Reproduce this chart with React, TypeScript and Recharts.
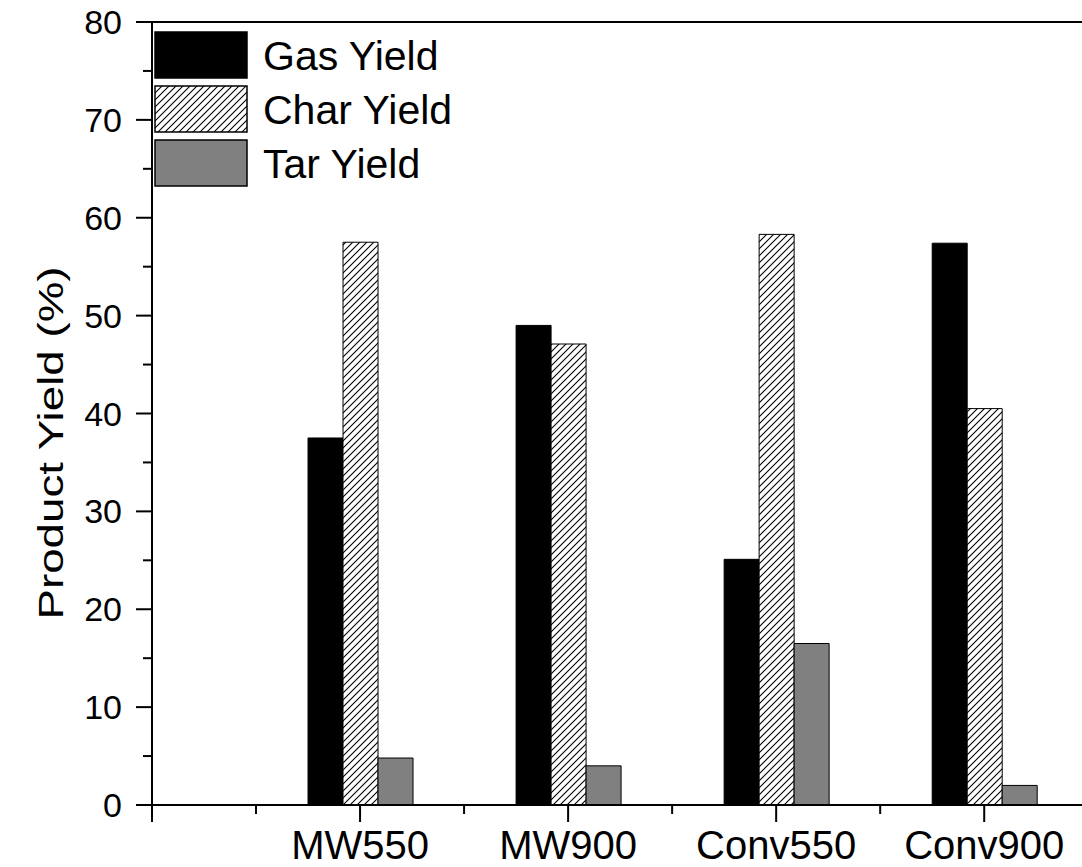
import React from 'react';
import { BarChart, Bar, XAxis, YAxis, ReferenceLine, Legend, Label } from 'recharts';

const categories = ['MW550', 'MW900', 'Conv550', 'Conv900'];
const categoryPositions = [1, 2, 3, 4];
const gasYield = [37.5, 49.0, 25.1, 57.4];
const charYield = [57.5, 47.1, 58.3, 40.5];
const tarYield = [4.8, 4.0, 16.5, 2.0];
const xTicks = [0, 0.5, 1, 1.5, 2, 2.5, 3, 3.5, 4];
const yTicks = [0, 5, 10, 15, 20, 25, 30, 35, 40, 45, 50, 55, 60, 65, 70, 75, 80];
const seriesNames = { gas: 'Gas Yield', char: 'Char Yield', tar: 'Tar Yield' };

const data = categories.map((c, i) => ({
  x: categoryPositions[i],
  name: c,
  gas: gasYield[i],
  char: charYield[i],
  tar: tarYield[i],
}));

const FONT = '"Liberation Sans", Arial, Helvetica, sans-serif';

const XTick = (props: any) => {
  const { x, y, payload } = props;
  const v = payload.value;
  const major = Math.abs(v - Math.round(v)) < 1e-6;
  const idx = categoryPositions.indexOf(Math.round(v));
  const label = major && idx >= 0 ? categories[idx] : '';
  return (
    <g>
      <line x1={x} x2={x} y1={y} y2={y + (major ? 17 : 9)} stroke="#000" strokeWidth={2} />
      {label && (
        <text x={x} y={y + 54} textAnchor="middle" fontSize={40} fontFamily={FONT} fill="#000">
          {label}
        </text>
      )}
    </g>
  );
};

const YTick = (props: any) => {
  const { x, y, payload } = props;
  const v = payload.value;
  const major = v % 10 === 0;
  return (
    <g>
      <line x1={x - (major ? 16 : 9)} x2={x} y1={y} y2={y} stroke="#000" strokeWidth={2} />
      {major && (
        <text x={x - 30} y={y + 12} textAnchor="end" fontSize={34} fontFamily={FONT} fill="#000">
          {v}
        </text>
      )}
    </g>
  );
};

const YLabel = () => (
  <text
    transform="translate(63,443) rotate(-90) scale(1.27,1)"
    textAnchor="middle"
    fontSize={36}
    fontFamily={FONT}
    fill="#000"
  >
    Product Yield (%)
  </text>
);

const fills: Record<string, string> = { gas: '#000000', char: 'url(#hatchLegend)', tar: '#808080' };
const order = ['gas', 'char', 'tar'];

const renderLegend = (props: any) => {
  const payload = [...(props.payload || [])].sort(
    (a: any, b: any) => order.indexOf(a.dataKey) - order.indexOf(b.dataKey)
  );
  return (
    <svg width={330} height={165} style={{ display: 'block' }}>
      <defs>
        <pattern id="hatchLegend" patternUnits="userSpaceOnUse" width={7} height={7}>
          <rect width={7} height={7} fill="#fff" />
          <path d="M0,7 L7,0 M-1,1 L1,-1 M6,8 L8,6" stroke="#000" strokeWidth={1.1} />
        </pattern>
      </defs>
      {payload.map((p: any, i: number) => (
        <g key={p.dataKey}>
          <rect
            x={1}
            y={1 + i * 54}
            width={92}
            height={46}
            fill={fills[p.dataKey]}
            stroke="#000"
            strokeWidth={1.5}
          />
          <text x={109} y={39 + i * 54} fontSize={41} fontFamily={FONT} fill="#000">
            {p.value}
          </text>
        </g>
      ))}
    </svg>
  );
};

export default function App() {
  return (
    <div style={{ position: 'absolute', left: 0, top: 0, width: 1082, height: 867, background: '#fff' }}>
      <BarChart
        width={1082}
        height={867}
        data={data}
        margin={{ top: 22, right: 0, bottom: 0, left: 0 }}
        barGap={0}
      >
        <defs>
          <pattern id="hatch" patternUnits="userSpaceOnUse" width={7} height={7}>
            <rect width={7} height={7} fill="#fff" />
            <path d="M0,7 L7,0 M-1,1 L1,-1 M6,8 L8,6" stroke="#000" strokeWidth={1.1} />
          </pattern>
        </defs>
        <XAxis
          dataKey="x"
          type="number"
          domain={[0, 4.47]}
          ticks={xTicks}
          interval={0}
          allowDataOverflow
          height={62}
          tickSize={0}
          tickMargin={0}
          tickLine={false}
          axisLine={{ stroke: '#000', strokeWidth: 2 }}
          tick={<XTick />}
        />
        <YAxis
          type="number"
          domain={[0, 80]}
          ticks={yTicks}
          interval={0}
          width={152}
          tickSize={0}
          tickMargin={0}
          tickLine={false}
          axisLine={{ stroke: '#000', strokeWidth: 2 }}
          tick={<YTick />}
        >
          <Label content={<YLabel />} />
        </YAxis>
        <ReferenceLine y={80} stroke="#000" strokeWidth={2} />
        <Legend
          layout="vertical"
          align="center"
          verticalAlign="middle"
          content={renderLegend}
          wrapperStyle={{ position: 'absolute', left: 154, top: 31, width: 330, height: 165 }}
        />
        <Bar dataKey="gas" name={seriesNames.gas} fill="#000000" stroke="#000" strokeWidth={1} barSize={35} isAnimationActive={false} />
        <Bar dataKey="char" name={seriesNames.char} fill="url(#hatch)" stroke="#000" strokeWidth={1} barSize={35} isAnimationActive={false} />
        <Bar dataKey="tar" name={seriesNames.tar} fill="#808080" stroke="#000" strokeWidth={1} barSize={35} isAnimationActive={false} />
      </BarChart>
    </div>
  );
}
